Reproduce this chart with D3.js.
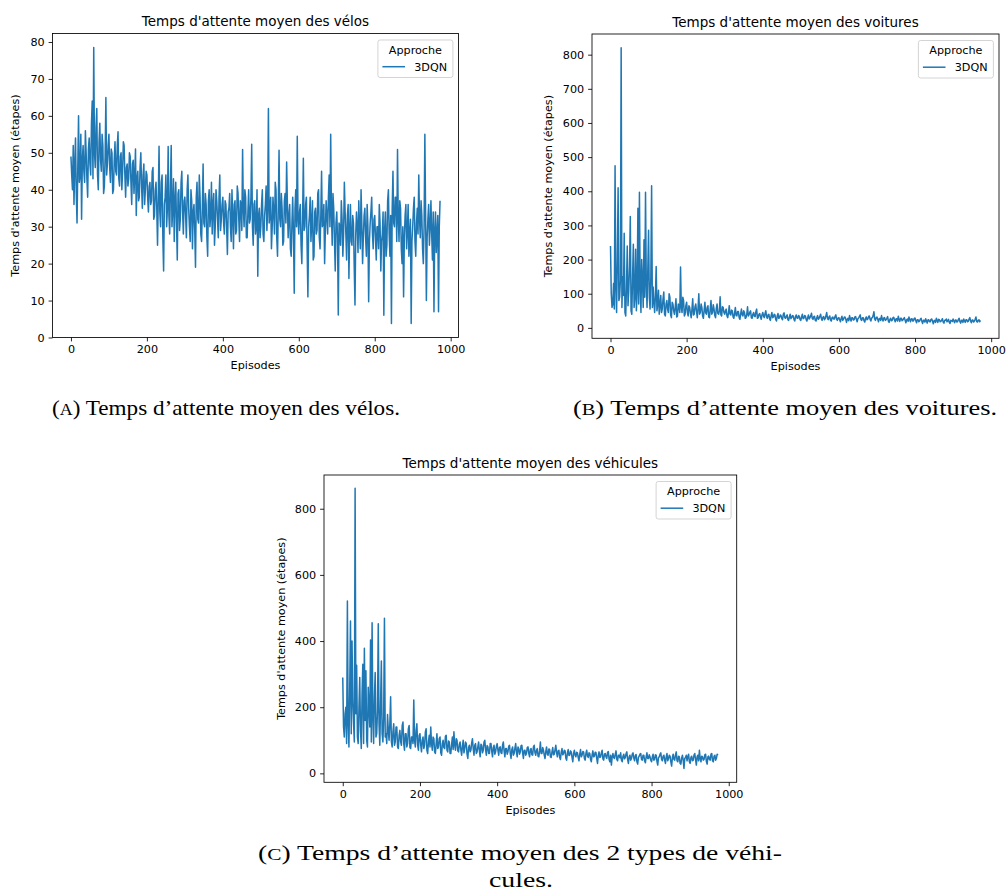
<!DOCTYPE html>
<html><head><meta charset="utf-8">
<script src="https://cdn.jsdelivr.net/npm/d3@7"></script>
<style>body{margin:0;background:#fff} svg{display:block}</style>
</head><body>
<svg id="fig" width="1007" height="893"></svg>
<script>
// ---------- DATA ----------
const episodes = d3.range(0, 973, 2);
const velos = [
49,44,40,52,36,47,54,39,31,46,60,42,44,55,32,48,52,45,42,56,50,43,38,51,54,
47,44,58,64,43,78.5,50,46,57,62,44,40,53,58,48,45,55,52,39,41,49,65,44,47,52,
55,46,42,51,50,39,40,48,53,45,44,52,55.7,43,41,49,50,40,45,53,52,44,38,46,47,
41,43,50,49,42,36,47,48,39,44,51,33,43,45,37,38,46,50,41,35,44,47,36,40,45,
44,38,34,41,42,36,37,45,46,32,33,40,42,35,25,38,51.8,34,30,42,44,27,18,36,38,
44,30,35,51.7,33,28,41,52,30,35,43,26,37,42,31,21,39,40,29,32,42,45,34,28,37,
38,33,27,40,44,35,30,26,40,37,24,34,36,29,19,38,42,32,31,44,38,28,26,35,47,
31,30,39,36,27,22,37,40,30,33,42,28,36,39,25,30,40,37,32,27,38,44,29,32,36,
38,31,28,37,36,30,22.5,34,35,39,30,26,40,33,24,36,37,28,29,41,39,32,26,37,36,
29,50.9,35,30,40,38,27,27,34,40,31,32,38,52.3,30,25,36,37,28,30,40,16.6,33,35,27,
30,36,40,28,26,33,36,41,29,35,62,31,33,38,24,30,38,34,28,42,40,27,22,35,50.7,
32,30,39,35,25,26,37,39,31,47.5,36,27,33,36,24,22,31,38,28,12,35,40,30,54.5,32,
28,34,36,25,20,32,48.5,29,30,36,38,24,11,30,33,38,26,31,37,21,22,34,35,28,29,
39,40,27,24,33,45,30,31,36,20,29,37,33,28,38,44,30,55,34,25,39,35,26,18,31,
34,27,6.1,31,30,25,37,32,22,28,42,34,28,21,33,36,16,29,36,26,25,33,31,19,8.8,
28,34,30,23,37,30,24,40,31,20,27,33,35,27,22,36,30,9.7,26,31,34,38,28,24,32,
33,27,21,30,30,24,36,31,18,26,28,34,6,29,34,22,25,37,40,28,22,33,3.8,35,45,
31,30,38,38,26,50.9,32,26,37,35,24,20,30,11,27,33,36,24,29,36,22,28,32,3.8,26,
30,35,38,26,22,31,35,28,44,32,27,37,33,24,20,30,55,33,10,27,32,36,25,30,37,
28,21,34,7,29,34,23,28,33,7,30,37
];
const voitures = [
240,100,60,70,130,55,475,120,45,200,410,80,90,140,820,60,150,95,277,45,35,120,240,65,110,
180,326,50,40,150,245,60,90,230,50,110,350,70,397,120,45,200,140,60,258,90,397,130,60,170,
286,90,55,150,416,60,120,75,45,95,180,50,70,110,40,65,95,45,55,85,105,40,35,70,80,
55,45,100,90,38,30,75,70,50,40,60,85,32,35,70,65,45,178,60,45,90,80,35,40,65,
75,45,35,65,60,42,30,55,85,38,40,62,70,48,30,58,100,40,45,70,60,35,28,52,75,
44,40,60,65,32,30,55,80,40,45,68,55,36,30,58,70,42,40,50,91,38,35,62,60,45,
40,50,55,35,30,45,65,40,38,52,50,32,28,44,60,36,35,48,48,30,25,42,55,38,35,
50,45,28,30,40,62,35,38,46,50,30,28,40,45,34,33,48,55,28,30,40,42,32,25,38,
45,35,30,42,50,33,28,38,40,26,22,36,45,30,32,40,38,25,20,35,42,28,30,38,36,
27,24,40,44,30,28,34,38,24,22,32,40,27,30,36,35,25,20,33,38,29,28,36,34,24,
22,32,40,27,28,36,35,24,20,30,38,26,30,35,43,28,25,33,34,22,20,30,36,25,28,
34,40,27,22,31,33,24,27,36,45,28,24,32,35,23,20,30,32,26,26,34,38,25,22,29,
30,24,18,28,34,22,25,31,32,26,16,25,28,21,36,27,20,30,30,23,24,32,33,25,18,
27,29,34,38,24,22,30,30,21,17,28,32,24,26,33,35,25,20,29,30,36,47.5,26,22,30,
32,25,18,27,28,22,36,26,20,29,30,22,24,28,33,20,16,25,28,21,22,30,31,24,18,
26,27,20,34,25,19,28,28,21,23,27,30,22,15,24,26,19,32,25,18,26,27,20,21,28,
29,21,15,24,24,18,20,26,28,19,13,22,22,17,27,20,14,23,24,18,18,25,26,19,12,
21,22,16,28,22,16,25,24,18,19,23,27,17,14,22,22,26,18,21,25,16,13,22,21,19,
26,20,15,23,23,17,19,25,28,18,14,22,22,16,26,21,16,24,24,18,19,26,30,20,15,
23,23,17,20,25,32,19,17,22,24,18,22
];
const vehicules = [
290,140,110,180,200,90,521,150,80,250,461,120,400,220,150,95,862,180,327,110,90,200,290,130,75,
240,330,90,378,160,310,100,80,260,200,140,403,95,455,170,90,230,305,110,120,190,452,150,85,210,
340,120,95,170,469,110,120,90,178,130,100,150,232,95,80,125,150,85,95,140,140,80,75,115,130,
95,85,145,155,90,70,120,120,80,90,135,145,78,75,110,110,90,222,100,80,130,150,85,70,115,
120,85,65,100,110,75,85,125,135,70,60,95,115,80,140,90,70,110,105,65,60,90,120,75,80,
105,110,62,55,90,100,78,75,112,115,70,65,98,95,60,60,88,110,72,126,85,70,105,100,68,
65,88,95,70,55,82,100,62,75,95,90,58,45,78,85,65,70,92,105,75,55,85,90,60,65,
80,95,68,50,88,85,62,70,95,100,72,55,84,80,60,60,90,90,66,50,78,85,58,65,82,
90,70,55,78,80,62,60,85,95,68,50,75,75,58,65,82,85,60,45,72,80,55,60,76,90,
64,50,80,75,58,65,84,85,62,45,70,70,55,60,78,80,60,50,72,75,56,55,80,85,62,
55,70,75,52,50,68,95,60,60,78,70,55,45,66,80,58,55,74,72,50,48,65,78,56,58,
72,85,62,50,68,70,48,42,64,75,56,60,70,68,46,40,62,72,54,55,68,65,48,35,60,
70,55,50,64,62,48,38,58,72,50,55,66,65,45,40,60,70,52,48,62,60,42,35,56,68,
50,52,64,63,45,30,55,65,48,50,62,70,44,40,58,60,50,45,63,66,42,35,55,25,50,
60,48,45,58,68,42,38,55,55,47,62,40,35,52,58,44,48,60,65,42,30,50,55,40,45,
58,62,46,38,54,57,36,28,48,52,58,60,42,40,55,55,38,32,50,62,45,45,56,50,40,
35,50,58,40,42,56,55,36,25,48,50,58,62,42,38,52,55,40,30,50,60,38,45,55,52,
35,22,48,58,42,40,56,65,38,35,52,50,30,28,46,55,40,15,45,48,55,38,50,58,35,
30,48,52,38,40,55,60,42,25,50,55,38,70,45,35,52,50,40,42,56,58,36,28,50,52,
42,40,58,60,38,35,52,55,40,45,58,55
];
const xTicks = [0, 200, 400, 600, 800, 1000];
const yTicksA = [0, 10, 20, 30, 40, 50, 60, 70, 80];
const yTicksB = [0, 100, 200, 300, 400, 500, 600, 700, 800];
const yTicksC = [0, 200, 400, 600, 800];
const titles = ["Temps d'attente moyen des vélos", "Temps d'attente moyen des voitures", "Temps d'attente moyen des véhicules"];
const xLabel = "Episodes";
const yLabel = "Temps d'attente moyen (étapes)";
const legendTitle = "Approche";
const seriesName = "3DQN";

// ---------- DRAW ----------
const svg = d3.select("#fig");
const FONT = "DejaVu Sans";
const BLUE = "#1f77b4";
const TICK_FS = 11.2, TITLE_FS = 13.5;
const TL = 3.9, TP = 3.9;

const panels = [
  {left:52.5, right:458.5, top:33.5, bottom:337.5, xDomain:[-48.6,1020.6], yDomain:[0,82.3],
   values:velos, yTicks:yTicksA, title:titles[0], ylabelX:15},
  {left:592, right:999, top:34, bottom:338.3, xDomain:[-48.6,1020.6], yDomain:[-30.5,860.5],
   values:voitures, yTicks:yTicksB, title:titles[1], ylabelX:548.5},
  {left:324, right:736.7, top:475, bottom:782.3, xDomain:[-48.6,1020.6], yDomain:[-27,902],
   values:vehicules, yTicks:yTicksC, title:titles[2], ylabelX:281}
];

function drawPanel(p) {
  const g = svg.append("g");
  const x = d3.scaleLinear().domain(p.xDomain).range([p.left, p.right]);
  const y = d3.scaleLinear().domain(p.yDomain).range([p.bottom, p.top]);

  const line = d3.line().x((d, i) => x(episodes[i])).y(d => y(d));
  g.append("path").datum(p.values).attr("d", line)
    .attr("fill", "none").attr("stroke", BLUE).attr("stroke-width", 1.5)
    .attr("stroke-linejoin", "round");

  const xa = g.append("g").attr("transform", `translate(0,${p.bottom})`)
    .call(d3.axisBottom(x).tickValues(xTicks).tickSize(TL).tickPadding(TP).tickFormat(d3.format("d")));
  const ya = g.append("g").attr("transform", `translate(${p.left},0)`)
    .call(d3.axisLeft(y).tickValues(p.yTicks).tickSize(TL).tickPadding(TP).tickFormat(d3.format("d")));
  [xa, ya].forEach(a => {
    a.select(".domain").remove();
    a.selectAll("line").attr("stroke", "#000").attr("stroke-width", 0.85);
    a.selectAll("text").attr("font-family", FONT).attr("font-size", TICK_FS).attr("fill", "#000");
  });

  g.append("rect").attr("x", p.left).attr("y", p.top)
    .attr("width", p.right - p.left).attr("height", p.bottom - p.top)
    .attr("fill", "none").attr("stroke", "#000").attr("stroke-width", 0.85);

  const cx = (p.left + p.right) / 2;
  g.append("text").attr("x", cx).attr("y", p.top - 7.5).attr("text-anchor", "middle")
    .attr("font-family", FONT).attr("font-size", TITLE_FS).attr("fill", "#000").text(p.title);
  g.append("text").attr("x", cx).attr("y", p.bottom + 31.5).attr("text-anchor", "middle")
    .attr("font-family", FONT).attr("font-size", TICK_FS).attr("fill", "#000").text(xLabel);
  const cy = (p.top + p.bottom) / 2;
  g.append("text").attr("transform", `translate(${p.ylabelX},${cy}) rotate(-90)`)
    .attr("text-anchor", "middle").attr("dominant-baseline", "central")
    .attr("font-family", FONT).attr("font-size", TICK_FS).attr("fill", "#000").text(yLabel);

  // legend
  const lw = 75, lh = 37.5;
  const lx = p.right - 5.6 - lw, ly = p.top + 6.5;
  const lg = g.append("g");
  lg.append("rect").attr("x", lx).attr("y", ly).attr("width", lw).attr("height", lh)
    .attr("rx", 2.2).attr("fill", "#fff").attr("fill-opacity", 0.8)
    .attr("stroke", "#cccccc").attr("stroke-width", 0.85);
  lg.append("text").attr("x", lx + lw / 2).attr("y", ly + 13.8).attr("text-anchor", "middle")
    .attr("font-family", FONT).attr("font-size", TICK_FS).attr("fill", "#000").text(legendTitle);
  lg.append("line").attr("x1", lx + 4.5).attr("x2", lx + 27.1).attr("y1", ly + 26.7).attr("y2", ly + 26.7)
    .attr("stroke", BLUE).attr("stroke-width", 1.5);
  lg.append("text").attr("x", lx + 36.3).attr("y", ly + 30.8)
    .attr("font-family", FONT).attr("font-size", TICK_FS).attr("fill", "#000").text(seriesName);
}
panels.forEach(drawPanel);

// ---------- CAPTIONS ----------
const SERIF = "Liberation Serif";
function caption(x0, x1, yb, letter, rest) {
  const t = svg.append("text").attr("x", x0).attr("y", yb)
    .attr("font-family", SERIF).attr("font-size", 22).attr("fill", "#000")
    .attr("textLength", x1 - x0).attr("lengthAdjust", "spacingAndGlyphs");
  t.append("tspan").text("(");
  t.append("tspan").attr("font-size", 17).text(letter);
  t.append("tspan").text(")" + rest);
}
caption(52, 400, 415, "A", " Temps d’attente moyen des vélos.");
caption(573, 997, 415, "B", " Temps d’attente moyen des voitures.");
caption(258, 782, 860, "C", " Temps d’attente moyen des 2 types de véhi-");
svg.append("text").attr("x", 489).attr("y", 887)
  .attr("font-family", SERIF).attr("font-size", 22).attr("fill", "#000")
  .attr("textLength", 64).attr("lengthAdjust", "spacingAndGlyphs").text("cules.");
</script>
</body></html>
